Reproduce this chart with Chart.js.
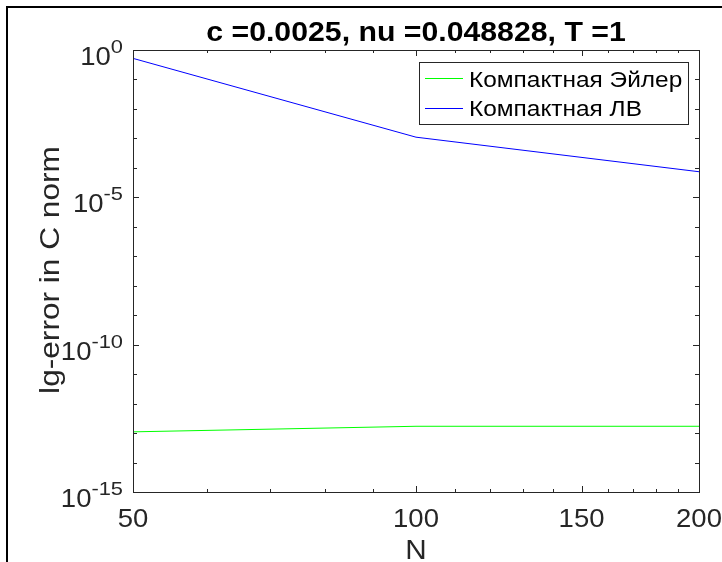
<!DOCTYPE html>
<html>
<head>
<meta charset="utf-8">
<script src="https://cdn.jsdelivr.net/npm/chart.js@4"></script>
<style>
  body { margin: 0; background: #fff; }
  canvas { display: block; }
</style>
</head>
<body>
<canvas id="err-chart" width="722" height="562"></canvas>
<script>
// values
const nValues = [50, 100, 200];
const eulerErr = [1.1e-13, 1.7e-13, 1.7e-13];
const lvErr = [0.52, 1.1e-3, 7.4e-5];

const seriesNames = ['Компактная Эйлер', 'Компактная ЛВ'];
const seriesColors = ['#00ff00', '#0000ff'];

const xTicks = [50, 100, 150, 200];
const xMinor = [60, 70, 80, 90, 110, 120, 130, 140, 160, 170, 180, 190];
const yTickExp = [0, -5, -10, -15];
const yMinorExp = [-1, -2, -3, -4, -6, -7, -8, -9, -11, -12, -13, -14];

const titleText = 'c =0.0025, nu =0.048828, T =1';
const xLabel = 'N';
const yLabel = 'lg-error in C norm';

const axisColor = '#262626';
const font = '"Liberation Sans", Arial, sans-serif';

function toPoints(xs, ys) {
  return xs.map((x, i) => ({ x: x, y: ys[i] }));
}

// the original text is a bit wider than Liberation Sans, so stretch it a little
function text(c, str, x, y, f, sx, align) {
  c.save();
  c.font = f;
  c.textAlign = align;
  c.textBaseline = 'alphabetic';
  c.translate(x, y);
  c.scale(sx, 1);
  c.fillText(str, 0, 0);
  c.restore();
}

function textWidth(c, str, f, sx) {
  c.save();
  c.font = f;
  const w = c.measureText(str).width * sx;
  c.restore();
  return w;
}

const matlabAxes = {
  id: 'matlabAxes',
  beforeDraw(chart) {
    const c = chart.ctx;
    c.save();
    c.fillStyle = '#fff';
    c.fillRect(0, 0, chart.width, chart.height);
    // figure frame, cut at the right and bottom
    c.fillStyle = '#000';
    c.fillRect(6, 6, chart.width - 6, 2);
    c.fillRect(6, 6, 2, chart.height - 6);
    c.restore();
  },
  afterDraw(chart) {
    const c = chart.ctx;
    const a = chart.chartArea;
    const xs = chart.scales.x;
    const ys = chart.scales.y;
    c.save();
    c.strokeStyle = axisColor;
    c.lineWidth = 1;
    c.strokeRect(Math.round(a.left) + 0.5, Math.round(a.top) + 0.5,
      Math.round(a.right - a.left), Math.round(a.bottom - a.top));

    function xTick(v, len) {
      const px = Math.round(xs.getPixelForValue(v)) + 0.5;
      c.beginPath();
      c.moveTo(px, a.bottom); c.lineTo(px, a.bottom - len);
      c.moveTo(px, a.top); c.lineTo(px, a.top + len);
      c.stroke();
    }
    function yTick(v, len) {
      const py = Math.round(ys.getPixelForValue(v)) + 0.5;
      c.beginPath();
      c.moveTo(a.left, py); c.lineTo(a.left + len, py);
      c.moveTo(a.right, py); c.lineTo(a.right - len, py);
      c.stroke();
    }
    xTicks.forEach(v => xTick(v, 6));
    xMinor.forEach(v => xTick(v, 3));
    yTickExp.forEach(e => yTick(Math.pow(10, e), 6));
    yMinorExp.forEach(e => yTick(Math.pow(10, e), 4));

    // tick labels
    c.fillStyle = axisColor;
    const tickFont = '25px ' + font;
    const supFont = '19px ' + font;
    xTicks.forEach(v => {
      text(c, String(v), xs.getPixelForValue(v), a.bottom + 35, tickFont, 1.1, 'center');
    });
    yTickExp.forEach(e => {
      const py = ys.getPixelForValue(Math.pow(10, e));
      const sup = String(e);
      const right = a.left - 10;
      const supW = textWidth(c, sup, supFont, 1.15);
      text(c, sup, right, py + 3, supFont, 1.15, 'right');
      text(c, '10', right - supW, py + 15, tickFont, 1.1, 'right');
    });

    // axis labels
    text(c, xLabel, (a.left + a.right) / 2, 559, '27px ' + font, 1.1, 'center');
    c.save();
    c.translate(59, (a.top + a.bottom) / 2 - 1);
    c.rotate(-Math.PI / 2);
    text(c, yLabel, 0, 0, '27.5px ' + font, 1.15, 'center');
    c.restore();

    // title
    c.fillStyle = '#000';
    text(c, titleText, (a.left + a.right) / 2, 41, 'bold 27px ' + font, 1.12, 'center');

    // legend box
    const lx = 419, ly = 62, lw = 269, lh = 62;
    c.fillStyle = '#fff';
    c.fillRect(lx, ly, lw, lh);
    c.strokeStyle = axisColor;
    c.lineWidth = 1;
    c.strokeRect(lx + 0.5, ly + 0.5, lw, lh);
    seriesNames.forEach((name, i) => {
      const yy = ly + 16 + i * 29.5;
      c.strokeStyle = seriesColors[i];
      c.lineWidth = 1.2;
      c.beginPath();
      c.moveTo(lx + 6, Math.round(yy) + 0.5);
      c.lineTo(lx + 44, Math.round(yy) + 0.5);
      c.stroke();
      c.fillStyle = '#000';
      text(c, name, lx + 50, yy + 8.5, '22px ' + font, 1.11, 'left');
    });
    c.restore();
  }
};

const chartData = {
  datasets: [
    {
      label: seriesNames[0],
      data: toPoints(nValues, eulerErr),
      borderColor: seriesColors[0],
      borderWidth: 1,
      pointRadius: 0,
      fill: false,
      tension: 0
    },
    {
      label: seriesNames[1],
      data: toPoints(nValues, lvErr),
      borderColor: seriesColors[1],
      borderWidth: 1,
      pointRadius: 0,
      fill: false,
      tension: 0
    }
  ]
};

const config = {
  type: 'line',
  data: chartData,
  options: {
    responsive: false,
    animation: false,
    layout: {
      padding: { left: 133, top: 50, right: 23, bottom: 70 }
    },
    scales: {
      x: { type: 'logarithmic', min: 50, max: 200, display: false },
      y: { type: 'logarithmic', min: 1e-15, max: 1, display: false }
    },
    plugins: {
      legend: { display: false },
      title: { display: false },
      tooltip: { enabled: false }
    }
  },
  plugins: [matlabAxes]
};

const errChart = new Chart(document.getElementById('err-chart').getContext('2d'), config);
</script>
</body>
</html>
